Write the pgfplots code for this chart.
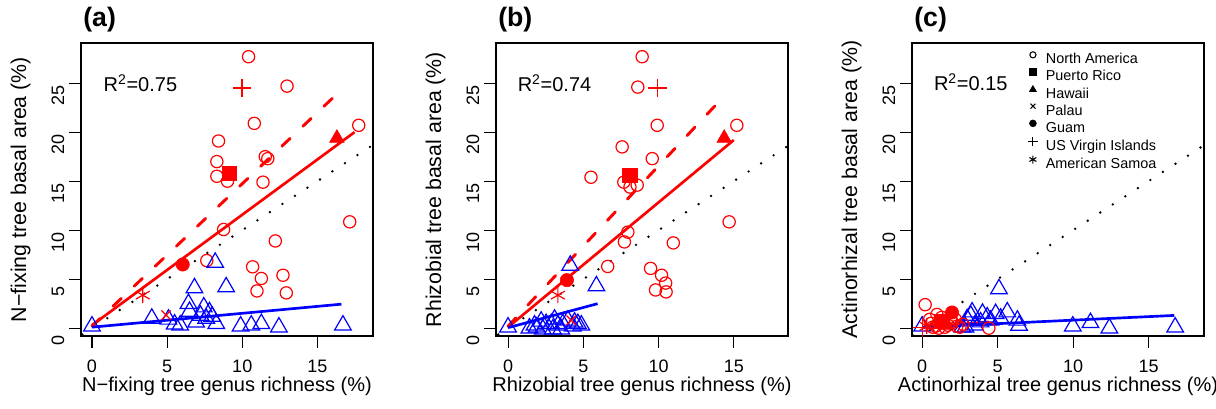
\documentclass[border=0pt]{standalone}
\usepackage{pgfplots}
\pgfplotsset{compat=1.18}
\usepackage{fontspec}
\setmainfont{Liberation Sans}
\definecolor{rred}{RGB}{255,0,0}
\definecolor{rblue}{RGB}{0,0,255}
\tikzset{
  r2/.style={font=\fontsize{15}{18}\selectfont, anchor=west, inner sep=0pt},
}
\pgfplotsset{
  rpanel/.style={
    scale only axis, width=219pt, height=219.75pt,
    anchor=south west,
    ymin=-0.8, ymax=29.1,
    xtick={0,5,10,15}, ytick={0,5,10,15,20,25},
    tick align=outside, tick pos=left,
    major tick length=9pt,
    axis line style={line width=0.8pt},
    every tick/.style={line width=0.8pt, black},
    /pgf/number format/assume math mode=true,
    ticklabel style={font=\fontsize{13.5}{16}\selectfont},
    xticklabel style={yshift=-5.5pt},
    yticklabel style={rotate=90, anchor=south, xshift=-9pt},
    xlabel style={font=\fontsize{15}{18}\selectfont, at={(axis description cs:0.5,-0.172)}, anchor=center},
    ylabel style={font=\fontsize{16}{19}\selectfont, at={(axis description cs:-0.207,0.5)}, anchor=center},
    title style={font=\fontsize{20}{24}\selectfont\bfseries, at={(axis description cs:0.007,1.051)}, anchor=west, inner sep=0pt},
  },
  nacirc/.style={only marks, mark=o, mark size=4.6pt, rred, mark options={line width=0.9pt}},
  btri/.style={only marks, mark=triangle, mark size=7.2pt, rblue, mark options={line width=0.9pt}},
  prsq/.style={only marks, mark=square*, mark size=5.3pt, rred},
  hitri/.style={only marks, mark=triangle*, mark size=6.3pt, rred},
  vipl/.style={only marks, mark=+, mark size=7pt, rred, mark options={line width=0.9pt}},
  guam/.style={only marks, mark=*, mark size=5pt, rred},
  palau/.style={only marks, mark=x, mark size=5pt, rred, mark options={line width=0.9pt}},
  samoa/.style={only marks, mark=asterisk, mark size=6pt, rred, mark options={line width=0.9pt}},
  regline/.style={no marks, line width=2pt},
  dashline/.style={no marks, rred, line width=2.2pt, line cap=round, dash pattern=on 8.5pt off 13.3pt},
  oneone/.style={no marks, black, line width=2pt, line cap=round, dash pattern=on 0pt off 11.2pt},
}
\begin{document}
\begin{tikzpicture}
\path[use as bounding box] (0,0) rectangle (912pt,306pt);
% ---------------- (a)
\begin{axis}[rpanel, at={(60.75pt,54pt)}, xmin=-0.73, xmax=18.7,
  title={(a)},
  xlabel={N−fixing tree genus richness (\%)},
  ylabel={N−fixing tree basal area (\%)}]
\addplot[oneone] coordinates {(-0.646,-0.646) (18.7,18.7)};
\addplot[nacirc] coordinates {(10.42,27.7)(12.98,24.7)(10.8,20.9)(17.75,20.7)(8.42,19.1)(11.53,17.5)(11.7,17.3)(8.31,17.0)(8.31,15.5)(9.02,15.0)(11.38,14.9)(8.76,10.07)(17.15,10.85)(12.2,8.9)(7.64,6.9)(10.69,6.26)(11.27,5.07)(12.71,5.4)(10.98,3.8)(12.93,3.6)};
\addplot[btri] coordinates {(0,0.2)(3.98,1.0)(5.09,0.9)(5.87,0.3)(5.5,0.4)(6.82,4.1)(8.93,4.2)(8.2,6.7)(6.42,2.5)(6.49,1.7)(7.44,2.15)(7.82,1.65)(7.22,1.3)(6.93,0.6)(8.27,0.45)(8.0,1.2)(7.6,1.0)(9.89,0.2)(10.6,0.3)(11.27,0.45)(12.44,0.1)(16.7,0.3)};
\addplot[prsq] coordinates {(9.13,15.8)};
\addplot[hitri] coordinates {(16.3,19.4)};
\addplot[vipl] coordinates {(9.98,24.5)};
\addplot[guam] coordinates {(6.04,6.5)};
\addplot[palau] coordinates {(4.93,1.33)};
\addplot[samoa] coordinates {(3.38,3.37)};
\addplot[regline, rred] coordinates {(0,0.3) (17.47,20.0)};
\addplot[dashline] coordinates {(0,0.2) (16.3,23.9)};
\addplot[regline, rblue] coordinates {(0,0.1) (16.6,2.45)};
\node[r2] at (axis cs:0.76,25) {R\textsuperscript{2}=0.75};
\end{axis}
% ---------------- (b)
\begin{axis}[rpanel, at={(372pt,54pt)}, xmin=-0.8, xmax=18.6,
  title={(b)},
  xlabel={Rhizobial tree genus richness (\%)},
  ylabel={Rhizobial tree basal area (\%)}]
\addplot[oneone] coordinates {(-0.646,-0.646) (18.6,18.6)};
\addplot[nacirc] coordinates {(8.91,27.7)(8.62,24.6)(9.91,20.7)(15.2,20.7)(7.58,18.5)(9.58,17.3)(5.51,15.4)(7.69,14.9)(8.58,14.6)(8.1,14.4)(14.69,10.85)(7.96,9.8)(7.73,8.8)(10.98,8.7)(6.62,6.3)(9.47,6.1)(10.2,5.4)(10.47,4.6)(9.8,3.9)(10.5,3.7)};
\addplot[btri] coordinates {(0,0.1)(4.13,6.4)(5.87,4.3)(1.42,0.0)(1.76,0.3)(1.9,0.1)(2.53,0.45)(2.87,0.45)(3.09,0.9)(3.31,0.3)(3.64,0.45)(3.98,0.8)(4.42,0.6)(4.64,0.45)(4.87,0.3)(2.31,-0.1)(2.98,-0.1)(3.53,-0.1)(2.2,0.7)(4.3,0.2)};
\addplot[prsq] coordinates {(8.09,15.6)};
\addplot[hitri] coordinates {(14.36,19.4)};
\addplot[vipl] coordinates {(9.91,24.5)};
\addplot[guam] coordinates {(3.91,4.9)};
\addplot[palau] coordinates {(4.2,0.8)};
\addplot[samoa] coordinates {(3.31,3.37)};
\addplot[regline, rred] coordinates {(0,0.1) (15.0,19.2)};
\addplot[dashline] coordinates {(0,0.2) (14.0,23.1)};
\addplot[regline, rblue] coordinates {(0,0.05) (5.95,2.5)};
\node[r2] at (axis cs:0.63,25) {R\textsuperscript{2}=0.74};
\end{axis}
% ---------------- (c)
\begin{axis}[rpanel, at={(684pt,54pt)}, xmin=-0.67, xmax=18.67,
  title={(c)},
  xlabel={Actinorhizal tree genus richness (\%)},
  ylabel={Actinorhizal tree basal area (\%)},
  legend cell align=left,
  legend image code/.code={\path (0pt,0pt) (12.5pt,0pt); \draw[#1] plot coordinates {(4pt,3.8pt)};},
  legend style={at={(axis description cs:0.394,0.971)}, anchor=north west, draw=none, fill=none,
    inner sep=0pt, row sep=0.5pt, font=\fontsize{10.8}{13}\selectfont,
    nodes={inner sep=1pt, text height=8pt, text depth=2pt}}]
\addlegendimage{only marks, mark=o, mark size=2.3pt, black, mark options={line width=0.8pt}}
\addlegendimage{only marks, mark=square*, mark size=2.4pt, black}
\addlegendimage{only marks, mark=triangle*, mark size=3pt, black}
\addlegendimage{only marks, mark=x, mark size=2.6pt, black, mark options={line width=0.8pt}}
\addlegendimage{only marks, mark=*, mark size=2.6pt, black}
\addlegendimage{only marks, mark=+, mark size=3.5pt, black, mark options={line width=0.8pt}}
\addlegendimage{only marks, mark=asterisk, mark size=3pt, black, mark options={line width=0.8pt}}
\addplot[oneone] coordinates {(-0.646,-0.646) (18.67,18.67)};
\addplot[btri] coordinates {(0,0.2)(16.76,0.1)(12.4,0.0)(11.15,0.55)(9.98,0.2)(5.09,4.0)(5.64,1.64)(4.87,1.47)(4.31,1.13)(3.31,1.64)(3.22,1.3)(2.98,0.95)(6.31,0.8)(6.42,0.28)(3.87,0.62)(2.87,0.1)(4.53,0.8)(5.2,1.0)(2.67,0.1)(3.5,0.3)(4.0,1.5)};
\addplot[nacirc] coordinates {(0.2,2.4)(0.98,1.4)(1.3,1.1)(0.6,0.5)(0.9,0.2)(1.4,0.8)(1.7,0.3)(2.0,0.6)(2.3,0.2)(2.5,0.1)(1.1,0.0)(2.7,0.4)(4.42,0.0)(1.9,1.0)(0.5,0.9)(1.5,0.1)(2.2,0.9)(0.7,0.1)};
\addplot[prsq] coordinates {(1.3,0.7)};
\addplot[hitri] coordinates {(1.6,0.3)};
\addplot[vipl] coordinates {(0.0,0.1)};
\addplot[guam] coordinates {(1.98,1.6)};
\addplot[palau] coordinates {(0.5,0.2)};
\addplot[samoa] coordinates {(0.3,0.2)};
\addplot[regline, rred] coordinates {(0,0.05) (4.4,0.65)};
\addplot[regline, rblue] coordinates {(0,0.1) (16.7,1.3)};
\node[r2] at (axis cs:0.77,25.1) {R\textsuperscript{2}=0.15};
\legend{North America, Puerto Rico, Hawaii, Palau, Guam, US Virgin Islands, American Samoa}
\end{axis}
\end{tikzpicture}
\end{document}
